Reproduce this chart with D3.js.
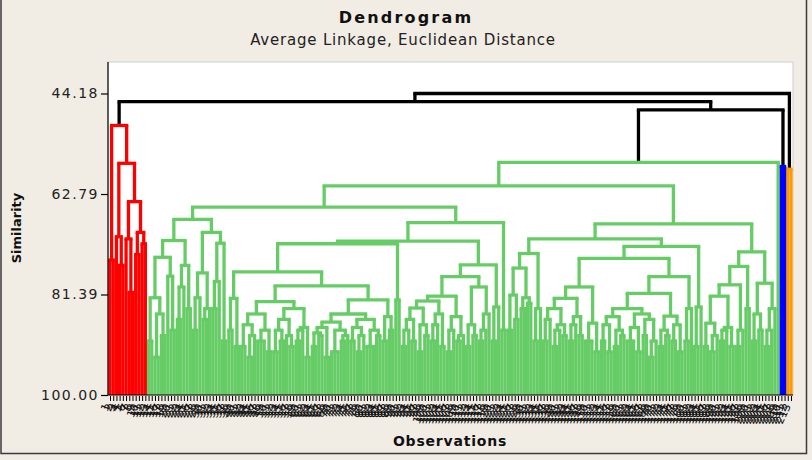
<!DOCTYPE html>
<html>
<head>
<meta charset="utf-8">
<script src="https://cdn.jsdelivr.net/npm/d3@7"></script>
<style>
  body { margin: 0; background: #f1ece4; }
  text { font-family: 'DejaVu Sans', Verdana, sans-serif; }
</style>
</head>
<body>
<svg id="chart" width="812" height="460"></svg>
<script>
// Ticks del eje de similitud
const yTicks = [44.18, 62.79, 81.39, 100.00]

// Alturas (similitud) de las uniones negras sobre los 4 clusters
const topHeights = [44.18, 45.7, 47.2]

// Arboles en formato "(a,b)altura"; "n@h" = n observaciones unidas a similitud h; "1" = una observacion
const redCluster = "(2@75,((1,2@76)70.7,((1,2@81)71.1,(2@74,2@72)69.9)64.2)57.1)50.1"

const gall = "(((2@90,(2@93,2@89)85)82,(1,2@88)78)74.5,((2@86,1)80,2@84)76)71.4"
const galr = "(((2@88,1)82,(2@86,1)84)77.4,((2@84,1)79,2@90)71.9)69.9"
const garP = "(((2@91,(2@93,1)89)87,(3@90,2@92)88)85,(((2@92,2@90)88,(1,2@91)89)86,((2@90,1)88,2@93)87.5)84)82.7"
const garQ = "((((2@91,2@89)88.5,2@93)87.5,(3@92,(2@90,1)89)88)86.5,((2@90,(2@92,1)89)87.5,(3@91,2@89)88)86)85"
const garA = "(((((2@91,1)88,2@90)86,(2@92,2@89)87)83.9,((2@90,1)87,2@91)85)82.6,((2@92,1)88,(2@90,1)89)85.5)81.7"
const garB = "((2@91,2@89)87,((2@90,1)88,1)85)80"
const gbll = "(((2@88,2@86)81.5,(2@84,2@83)82)76.5,(2@90,1)84)73.8"
const gbM = "(((2@90,1)86,((2@91,1)88,2@89)87)84,((2@90,1)87,2@89)85.5)82.1"
const gbS = "((((2@90,2@92)87,(2@91,2@89)88)85.5,((3@90,2@92)87.5,(2@89,(2@93,1)90)86)85)84,((2@91,2@89)88,(2@90,2@92)87)85.4)81.2"
const gbrl = "(((2@91,(2@92,1)89)86.7,((2@90,1)88,2@91)87.5)81.7,(2@91,1)88)79.6"
const gbrr = "((2@90,2@88)85,((2@91,1)88,1)84)79.3"

const greenA = `((${gall},${galr})67.5,(((((2@88,2@91)82.1,(${garP},(${garQ},(2@90,2@88)85.5)82.4)79.8)77.2,2@82.4)72,((${garA},${garB})78.1,(2@90,1)83.7)75.9)71.5,2@88)68.1)65.2`
const greenB = `((${gbll},(((${gbM},(3@90,2@92)86.7)80,(${gbS},(2@90,1)84)78.1)74.7,(2@91,1)83.7)72.5)71.1,((${gbrl},2@84)76.2,${gbrr})73.5)68.3`
const greenCluster = `((${greenA},${greenB})61.3,1)56.95`
const blueCluster = "2@57.7"
const orangeCluster = "2@58.2"

const colors = { black: '#000000', red: '#ff0000', green: '#66cc66', blue: '#0000ff', orange: '#ff9900' }

// Lee un string del arbol y lo convierte en objetos para d3.hierarchy
const parse_tree = (str, cluster) => {
  let pos = 0
  const num = () => {
    const m = /^[0-9.]+/.exec(str.slice(pos))
    pos += m[0].length
    return +m[0]
  }
  const node = () => {
    if (str[pos] === '(') {
      pos++
      const children = [node()]
      while (str[pos] === ',') { pos++; children.push(node()) }
      pos++
      return { h: num(), cluster, children }
    }
    const n = num()
    if (str[pos] === '@') {
      pos++
      const h = num()
      return { h, cluster, children: d3.range(n).map(() => ({ h: 100, cluster })) }
    }
    return { h: 100, cluster }
  }
  return node()
}

const tree = {
  h: topHeights[0], cluster: 'black', children: [
    { h: topHeights[1], cluster: 'black', children: [
      parse_tree(redCluster, 'red'),
      { h: topHeights[2], cluster: 'black', children: [
        parse_tree(greenCluster, 'green'),
        parse_tree(blueCluster, 'blue')
      ] }
    ] },
    parse_tree(orangeCluster, 'orange')
  ]
}

const root = d3.hierarchy(tree)
const N = root.leaves().length
d3.cluster().size([N, 1]).separation(() => 1)(root)

const plot = { left: 108, right: 793, top: 62, bottom: 395 }
const x = d3.scaleLinear().domain([0.5, N - 0.5]).range([110, 791])
const y = d3.scaleLinear().domain([44.18, 100]).range([93.5, plot.bottom])

const obsLabels = root.leaves().map((d, i) => String(i + 1))

const svg = d3.select('#chart')

svg.append('rect').attr('width', 812).attr('height', 460).attr('fill', '#f1ece4')
svg.append('rect')
  .attr('x', 1).attr('y', -4).attr('width', 805.5).attr('height', 457.5)
  .attr('fill', 'none').attr('stroke', '#3a3a3a').attr('stroke-width', 1.5)

// Area del grafico
svg.append('rect')
  .attr('x', plot.left).attr('y', plot.top)
  .attr('width', plot.right - plot.left).attr('height', plot.bottom - plot.top)
  .attr('fill', '#ffffff').attr('stroke', '#cfcfcf')

// Titulos
svg.append('text').attr('x', 406).attr('y', 23).attr('text-anchor', 'middle')
  .attr('font-size', 16).attr('font-weight', 'bold').attr('letter-spacing', 2.2).attr('fill', '#111')
  .text('Dendrogram')
svg.append('text').attr('x', 403).attr('y', 45).attr('text-anchor', 'middle')
  .attr('font-size', 15).attr('letter-spacing', 0.8).attr('fill', '#222')
  .text('Average Linkage, Euclidean Distance')

// Lineas del dendrograma
const g = svg.append('g').attr('fill', 'none').attr('stroke-width', 3.3)
const inner = root.descendants().filter(d => d.children)

inner.forEach(d => {
  const col = colors[d.data.cluster]
  const xs = d.children.map(c => x(c.x))
  g.append('line')
    .attr('x1', d3.min(xs)).attr('x2', d3.max(xs))
    .attr('y1', y(d.data.h)).attr('y2', y(d.data.h))
    .attr('stroke', col).attr('stroke-linecap', 'square')
  d.children.forEach(c => {
    g.append('line')
      .attr('x1', x(c.x)).attr('x2', x(c.x))
      .attr('y1', y(d.data.h)).attr('y2', y(c.data.h))
      .attr('stroke', col)
  })
})

// Eje Y
const yAxis = d3.axisLeft(y).tickValues(yTicks).tickFormat(d3.format('.2f')).tickSize(7).tickPadding(2)
const gy = svg.append('g').attr('transform', `translate(${plot.left},0)`).call(yAxis)
gy.select('.domain').remove()
gy.selectAll('line').attr('stroke', '#000').attr('stroke-width', 1.2)
gy.selectAll('text').attr('font-size', 14).attr('letter-spacing', 1.5).attr('fill', '#222')
  .attr('font-family', "'DejaVu Sans', Verdana, sans-serif")

// Eje X (observaciones)
const xAxis = d3.axisBottom(x).tickValues(root.leaves().map(d => d.x))
  .tickFormat((d, i) => obsLabels[i]).tickSize(5).tickSizeOuter(0)
const gx = svg.append('g').attr('transform', `translate(0,${plot.bottom + 1})`).call(xAxis)
gx.select('.domain').remove()
gx.selectAll('line').attr('stroke', '#000')
gx.selectAll('text')
  .attr('y', 0).attr('x', -9).attr('dy', '0.35em')
  .attr('transform', 'rotate(-65)')
  .attr('text-anchor', 'end')
  .attr('font-size', 11).attr('fill', '#111')
  .attr('font-family', "'DejaVu Sans', Verdana, sans-serif")

// Ejes izquierdo e inferior
svg.append('line').attr('x1', plot.left).attr('x2', plot.left).attr('y1', plot.top).attr('y2', plot.bottom)
  .attr('stroke', '#000').attr('stroke-width', 1.2)
svg.append('line').attr('x1', plot.left).attr('x2', plot.right).attr('y1', plot.bottom).attr('y2', plot.bottom)
  .attr('stroke', '#000').attr('stroke-width', 1.2)

// Etiquetas de ejes
svg.append('text').attr('x', 450).attr('y', 446).attr('text-anchor', 'middle')
  .attr('font-size', 14).attr('font-weight', 'bold').attr('letter-spacing', 0.8).attr('fill', '#111')
  .text('Observations')
svg.append('text').attr('transform', 'translate(21,228) rotate(-90)').attr('text-anchor', 'middle')
  .attr('font-size', 13).attr('font-weight', 'bold').attr('fill', '#111')
  .text('Similarity')
</script>
</body>
</html>
